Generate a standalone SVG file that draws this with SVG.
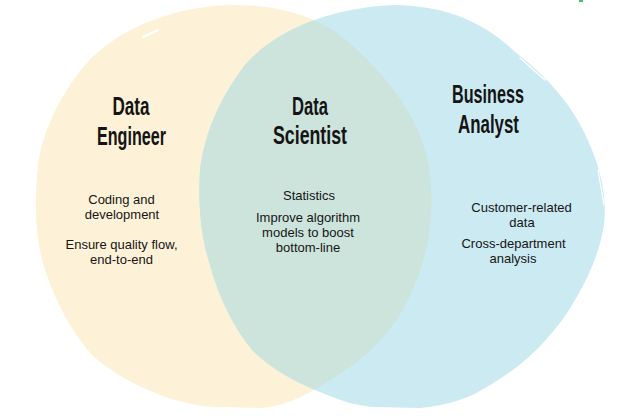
<svg xmlns="http://www.w3.org/2000/svg" width="624" height="419" viewBox="0 0 624 419">
<style>
.h{font-family:"Liberation Sans Narrow","Liberation Sans","DejaVu Sans Condensed",sans-serif;font-weight:bold;font-size:25px;fill:#141414;text-anchor:middle}
.b{font-family:"Liberation Sans",Arial,sans-serif;font-size:13px;fill:#151515;text-anchor:middle}
.streak{fill:none;stroke:#ffffff;stroke-linecap:round}
</style>
<defs>
<path id="yshape" d="M230,5 C275,4 320,15 352,45 C380,70 405,100 420,135 C430,160 433,190 431,215 C429,245 422,270 410,295 C395,330 365,360 330,380 C310,393 290,405 262,408 L215,407 C195,406 180,402 160,395 C135,385 110,372 92,355 C70,330 55,300 45,270 C35,240 34,200 38,165 C43,130 60,95 85,65 C120,25 180,6 230,5 Z"/>
<path id="bshape" d="M395,5 C440,6 480,18 515,52 C545,75 575,105 592,150 C602,175 607,200 604,225 C600,250 590,275 575,300 C555,335 525,365 490,385 C470,398 450,405 420,408 L375,407 C355,406 340,400 320,392 C295,382 270,368 252,350 C232,325 218,295 210,265 C200,235 198,200 200,170 C205,130 222,95 245,65 C280,25 340,7 395,5 Z"/>
<clipPath id="yclip"><use href="#yshape"/></clipPath>
</defs>
<g id="data-engineer">
<use href="#yshape" fill="#FDF2D7"/>
<path class="streak" stroke-width="2" d="M143,37 L158,30"/>
</g>
<g id="business-analyst">
<use href="#bshape" fill="#CBEAF2"/>
<path class="streak" stroke-width="1.5" d="M520,58 L545,80"/>
<path class="streak" stroke-width="1.2" d="M598,170 L604,205"/>
</g>
<g id="data-scientist">
<use href="#bshape" fill="#CCE4DB" clip-path="url(#yclip)"/>
</g>
<rect x="579" y="0" width="4" height="2" fill="#3ec46a"/>
<g id="labels-engineer">
<text class="h" x="131" y="115" textLength="37" lengthAdjust="spacingAndGlyphs">Data</text>
<text class="h" x="131.5" y="145" textLength="69" lengthAdjust="spacingAndGlyphs">Engineer</text>
<text class="b" x="121.5" y="203.5">Coding and</text>
<text class="b" x="122" y="218.5">development</text>
<text class="b" x="121.5" y="248.5">Ensure quality flow,</text>
<text class="b" x="121.5" y="263.5">end-to-end</text>
</g>
<g id="labels-scientist">
<text class="h" x="310" y="115" textLength="36" lengthAdjust="spacingAndGlyphs">Data</text>
<text class="h" x="310" y="144" textLength="74" lengthAdjust="spacingAndGlyphs">Scientist</text>
<text class="b" x="309" y="200">Statistics</text>
<text class="b" x="308" y="221.5">Improve algorithm</text>
<text class="b" x="308" y="236.5">models to boost</text>
<text class="b" x="308" y="251.5">bottom-line</text>
</g>
<g id="labels-analyst">
<text class="h" x="488" y="103" textLength="72" lengthAdjust="spacingAndGlyphs">Business</text>
<text class="h" x="488.5" y="133" textLength="61" lengthAdjust="spacingAndGlyphs">Analyst</text>
<text class="b" x="521.5" y="211.5">Customer-related</text>
<text class="b" x="522" y="226.5">data</text>
<text class="b" x="513.5" y="248">Cross-department</text>
<text class="b" x="513" y="263">analysis</text>
</g>
</svg>
